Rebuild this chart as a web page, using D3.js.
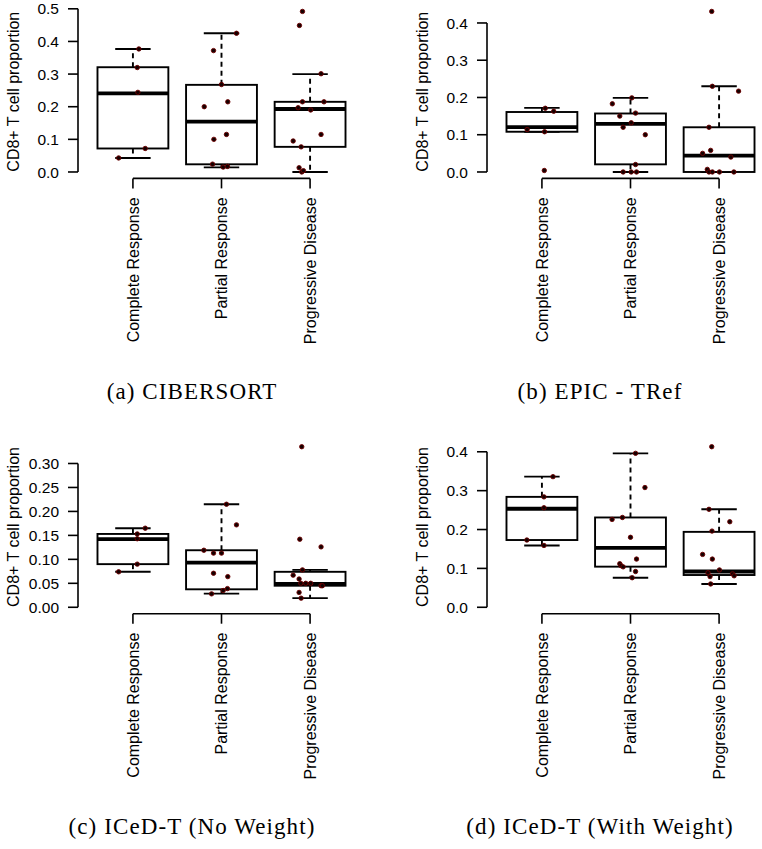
<!DOCTYPE html>
<html>
<head>
<meta charset="utf-8">
<script src="https://cdn.jsdelivr.net/npm/d3@7"></script>
<style>
  body { margin: 0; background: #fff; }
  svg text { font-family: "Liberation Sans", Arial, sans-serif; fill: #000; }
  .caption { font-family: "Liberation Serif", "Times New Roman", serif; }
</style>
</head>
<body>
<div class="svgWrap"></div>
<script>
// categories and captions
var categories = ["Complete Response", "Partial Response", "Progressive Disease"];
var captions = ["(a) CIBERSORT", "(b) EPIC - TRef", "(c) ICeD-T (No Weight)", "(d) ICeD-T (With Weight)"];

// y tick values per panel
var ticksA = [0, 0.1, 0.2, 0.3, 0.4, 0.5];
var ticksB = [0, 0.1, 0.2, 0.3, 0.4];
var ticksC = [0, 0.05, 0.10, 0.15, 0.20, 0.25, 0.30];
var ticksD = [0, 0.1, 0.2, 0.3, 0.4];

// (a) CIBERSORT points + jitter (in category units)
var cibCR = [0.377, 0.320, 0.244, 0.072, 0.043];
var cibCRjit = [0.067, 0.049, 0.056, 0.139, -0.161];
var cibPR = [0.425, 0.372, 0.268, 0.200, 0.215, 0.100, 0.115, 0.024, 0.015, 0.017];
var cibPRjit = [0.169, -0.090, 0.0, -0.195, 0.071, -0.086, 0.056, -0.101, 0.019, 0.067];
var cibPD = [0.492, 0.449, 0.301, 0.215, 0.215, 0.197, 0.190, 0.115, 0.095, 0.077, 0.013, 0.0, 0.004];
var cibPDjit = [-0.086, -0.120, 0.124, -0.086, 0.157, -0.135, 0.007, 0.124, -0.191, -0.101, -0.124, -0.094, -0.075];
// box stats: [lower whisker, Q1, median, Q3, upper whisker]
var cibBox = [[0.043, 0.072, 0.241, 0.321, 0.377], [0.014, 0.0235, 0.154, 0.267, 0.425], [0.0, 0.077, 0.193, 0.215, 0.300]];

// (b) EPIC - TRef
var epicCR = [0.171, 0.163, 0.114, 0.108, 0.004];
var epicCRjit = [0.038, 0.133, -0.167, 0.030, 0.027];
var epicPR = [0.199, 0.183, 0.150, 0.158, 0.120, 0.132, 0.100, 0.020, 0.0, 0.0, 0.0];
var epicPRjit = [0.015, -0.205, -0.121, 0.057, -0.083, 0.008, 0.167, 0.057, -0.083, 0.008, 0.068];
var epicPD = [0.431, 0.230, 0.217, 0.120, 0.058, 0.050, 0.040, 0.007, 0.0, 0.0, 0.0, 0.0];
var epicPDjit = [-0.083, -0.076, 0.220, -0.114, -0.095, -0.186, 0.133, -0.133, -0.114, -0.076, 0.004, 0.167];
var epicBox = [[0.108, 0.108, 0.1205, 0.161, 0.172], [0.0, 0.0205, 0.129, 0.157, 0.199], [0.0, 0.0, 0.044, 0.120, 0.230]];

// (c) ICeD-T no weight
var nwCR = [0.165, 0.153, 0.143, 0.090, 0.074];
var nwCRjit = [0.139, 0.049, 0.049, 0.049, -0.161];
var nwPR = [0.215, 0.172, 0.119, 0.113, 0.113, 0.071, 0.064, 0.039, 0.035, 0.028];
var nwPRjit = [0.056, 0.169, -0.199, -0.090, 0.0, -0.090, 0.071, 0.067, 0.019, -0.112];
var nwPD = [0.335, 0.142, 0.126, 0.078, 0.067, 0.059, 0.050, 0.050, 0.050, 0.045, 0.045, 0.031, 0.019];
var nwPDjit = [-0.094, -0.116, 0.124, -0.086, -0.191, -0.124, -0.105, -0.049, 0.007, 0.124, 0.139, -0.124, -0.101];
var nwBox = [[0.074, 0.090, 0.142, 0.153, 0.165], [0.0285, 0.0375, 0.093, 0.119, 0.215], [0.019, 0.045, 0.049, 0.074, 0.078]];

// (d) ICeD-T with weight
var wCR = [0.336, 0.284, 0.256, 0.173, 0.159];
var wCRjit = [0.125, 0.023, 0.023, -0.170, 0.023];
var wPR = [0.396, 0.308, 0.226, 0.231, 0.180, 0.124, 0.112, 0.107, 0.104, 0.092, 0.076];
var wPRjit = [0.057, 0.163, -0.208, -0.091, 0.0, 0.068, -0.121, -0.106, -0.083, 0.057, 0.019];
var wPD = [0.413, 0.252, 0.220, 0.196, 0.136, 0.124, 0.096, 0.089, 0.079, 0.086, 0.081, 0.060];
var wPDjit = [-0.083, -0.114, 0.121, -0.080, -0.186, -0.076, 0.004, -0.125, -0.102, 0.152, 0.170, -0.095];
var wBox = [[0.159, 0.173, 0.2535, 0.284, 0.336], [0.076, 0.1045, 0.153, 0.231, 0.396], [0.060, 0.083, 0.092, 0.194, 0.252]];

var panels = [
  {pts: [cibCR, cibPR, cibPD], jit: [cibCRjit, cibPRjit, cibPDjit], box: cibBox, ticks: ticksA, fmt: ".1f"},
  {pts: [epicCR, epicPR, epicPD], jit: [epicCRjit, epicPRjit, epicPDjit], box: epicBox, ticks: ticksB, fmt: ".1f"},
  {pts: [nwCR, nwPR, nwPD], jit: [nwCRjit, nwPRjit, nwPDjit], box: nwBox, ticks: ticksC, fmt: ".2f"},
  {pts: [wCR, wPR, wPD], jit: [wCRjit, wPRjit, wPDjit], box: wBox, ticks: ticksD, fmt: ".1f"}
];

var W = 287, H = 173.4;
var colLeft = [78, 487];
var rowTop = [5, 440.3];
var capX = [192, 600];
var capY = [398.5, 834];

var svg = d3.select(".svgWrap").append("svg")
  .attr("width", 762).attr("height", 849);

panels.forEach(function(p, k){
  var col = k % 2, row = Math.floor(k / 2);
  var g = svg.append("g")
    .attr("transform", "translate(" + colLeft[col] + "," + rowTop[row] + ")");

  var maxV = d3.max(p.pts, function(a){ return d3.max(a); });
  var y = d3.scaleLinear().domain([-0.04 * maxV, 1.04 * maxV]).range([H, 0]);
  var x = d3.scaleLinear().domain([0.38, 3.62]).range([0, W]);
  var unit = x(1) - x(0);

  // boxes
  p.box.forEach(function(b, i){
    var cx = x(i + 1), bw = 0.8 * unit, sw = 0.4 * unit;
    // whiskers (dashed)
    g.append("line").attr("x1", cx).attr("x2", cx).attr("y1", y(b[3])).attr("y2", y(b[4]))
      .attr("stroke", "#000").attr("stroke-width", 1.9).attr("stroke-dasharray", "5,4");
    g.append("line").attr("x1", cx).attr("x2", cx).attr("y1", y(b[1])).attr("y2", y(b[0]))
      .attr("stroke", "#000").attr("stroke-width", 1.9).attr("stroke-dasharray", "5,4");
    // staples
    [b[0], b[4]].forEach(function(v){
      g.append("line").attr("x1", cx - sw / 2).attr("x2", cx + sw / 2).attr("y1", y(v)).attr("y2", y(v))
        .attr("stroke", "#000").attr("stroke-width", 1.9);
    });
    g.append("rect").attr("x", cx - bw / 2).attr("width", bw)
      .attr("y", y(b[3])).attr("height", y(b[1]) - y(b[3]))
      .attr("fill", "#fff").attr("stroke", "#000").attr("stroke-width", 1.9);
    g.append("line").attr("x1", cx - bw / 2).attr("x2", cx + bw / 2).attr("y1", y(b[2])).attr("y2", y(b[2]))
      .attr("stroke", "#000").attr("stroke-width", 3.8);
  });

  // jittered points
  p.pts.forEach(function(arr, i){
    g.selectAll(null).data(arr).enter().append("circle")
      .attr("cx", function(d, j){ return x(i + 1 + p.jit[i][j]); })
      .attr("cy", function(d){ return y(d); })
      .attr("r", 2.2)
      .attr("fill", "#140000").attr("stroke", "#6e0000").attr("stroke-width", 0.9);
  });

  // y axis
  var yAxis = g.append("g");
  yAxis.append("line").attr("x1", 0).attr("x2", 0)
    .attr("y1", y(p.ticks[0])).attr("y2", y(p.ticks[p.ticks.length - 1]))
    .attr("stroke", "#000").attr("stroke-width", 1.6);
  p.ticks.forEach(function(t){
    yAxis.append("line").attr("x1", -10).attr("x2", 0).attr("y1", y(t)).attr("y2", y(t))
      .attr("stroke", "#000").attr("stroke-width", 1.6);
    yAxis.append("text").attr("x", -19).attr("y", y(t)).attr("dy", "0.36em")
      .attr("text-anchor", "end").style("font-size", "15.5px")
      .text(d3.format(p.fmt)(t));
  });

  // x axis bracket
  var xAxis = g.append("g").attr("transform", "translate(0," + H + ")");
  xAxis.append("line").attr("x1", x(1)).attr("x2", x(3)).attr("y1", 0).attr("y2", 0)
    .attr("stroke", "#000").attr("stroke-width", 1.6);
  categories.forEach(function(c, i){
    xAxis.append("line").attr("x1", x(i + 1)).attr("x2", x(i + 1)).attr("y1", 0).attr("y2", 10)
      .attr("stroke", "#000").attr("stroke-width", 1.6);
    xAxis.append("text")
      .attr("transform", "translate(" + x(i + 1) + ",19) rotate(-90)")
      .attr("dy", "0.36em").attr("text-anchor", "end").style("font-size", "16px")
      .text(c);
  });

  // y title
  g.append("text")
    .attr("transform", "translate(-59," + (H / 2) + ") rotate(-90)")
    .attr("text-anchor", "middle").style("font-size", "16px")
    .text("CD8+ T cell proportion");

  // caption
  svg.append("text").attr("class", "caption")
    .attr("x", capX[col]).attr("y", capY[row])
    .attr("text-anchor", "middle").style("font-size", "23px").style("letter-spacing", "1.1px")
    .text(captions[k]);
});
</script>
</body>
</html>
